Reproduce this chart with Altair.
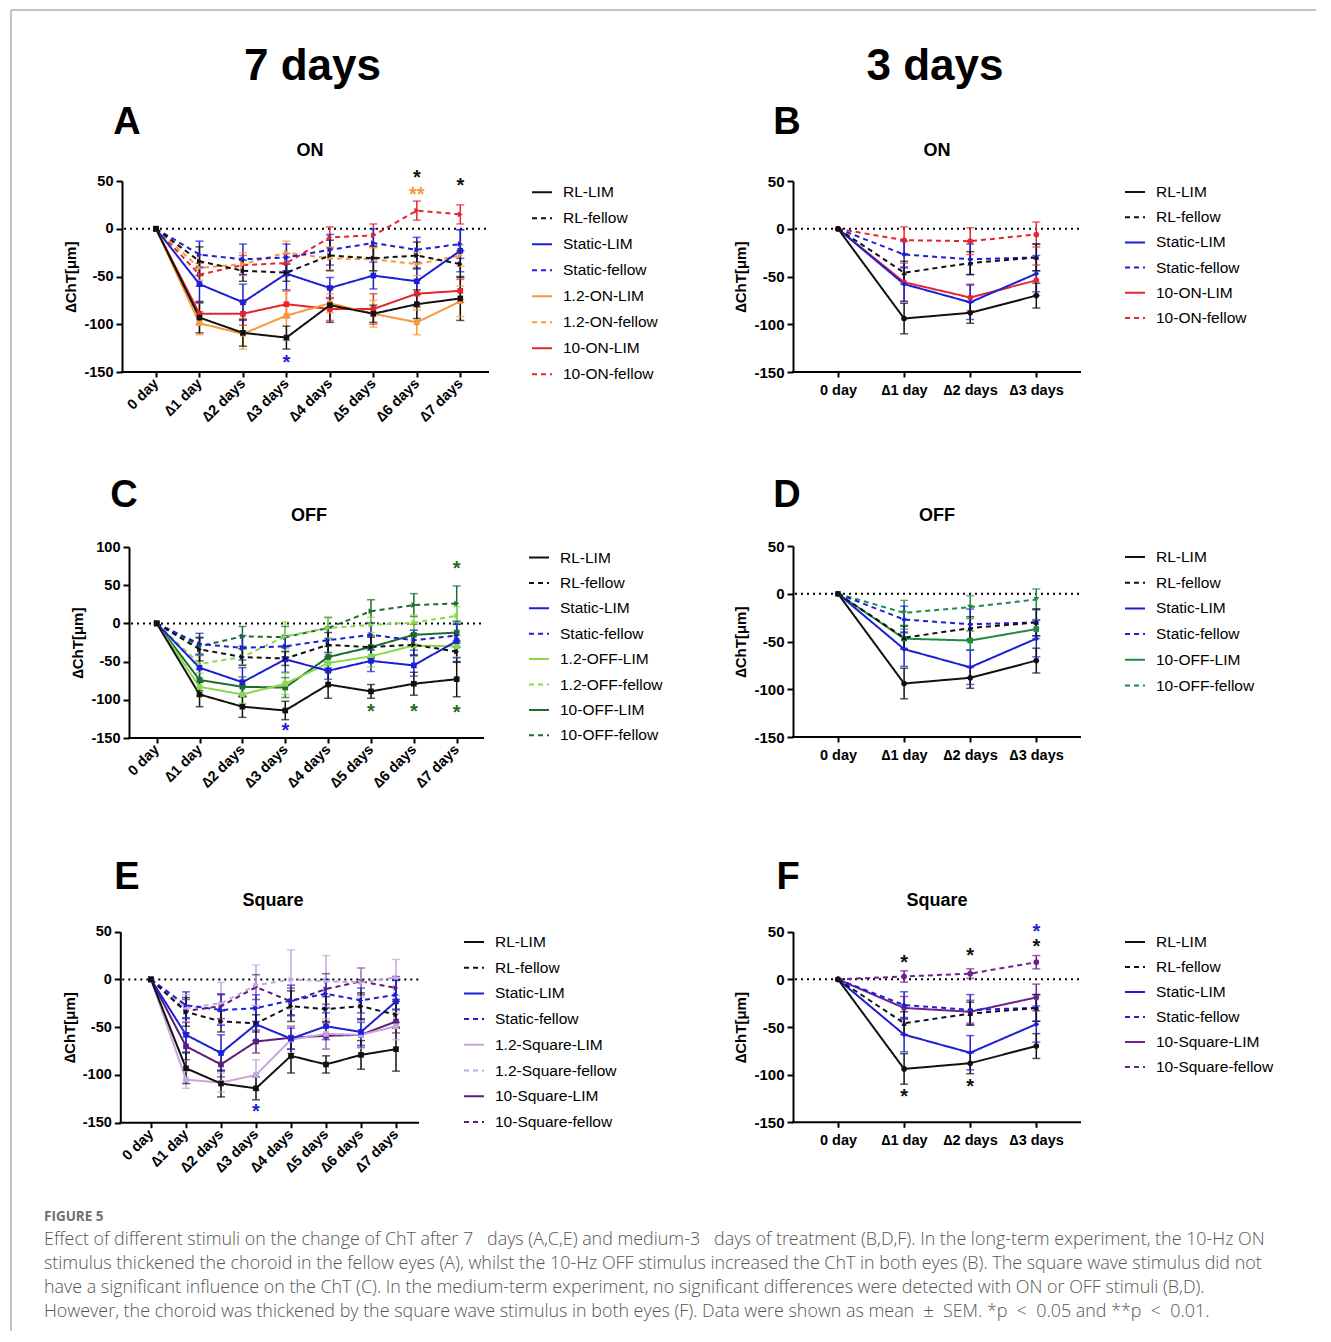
import altair as alt
import pandas as pd

FONT = "Liberation Sans"
CAP_FONT = "Open Sans"

# ---------------- categories ----------------
CATS7 = ["0 day", "∆1 day", "∆2 days", "∆3 days", "∆4 days", "∆5 days", "∆6 days", "∆7 days"]
CATS3 = ["0 day", "∆1 day", "∆2 days", "∆3 days"]

# ---------------- 7-day experiment (mean, SEM) ----------------
RL_LIM_7 = [0, -93, -109, -114, -80, -89, -79, -73]
RL_LIM_7_SEM = [0, 16, 14, 12, 18, 9, 15, 23]
RL_FEL_7 = [0, -34, -44, -46, -28, -31, -28, -37]
RL_FEL_7_SEM = [0, 15, 11, 9, 16, 13, 14, 14]
ST_LIM_7 = [0, -58, -77, -47, -62, -49, -55, -23]
ST_LIM_7_SEM = [0, 18, 19, 17, 11, 14, 14, 22]
ST_FEL_7 = [0, -27, -32, -30, -22, -15, -22, -16]
ST_FEL_7_SEM = [0, 14, 16, 14, 16, 15, 13, 15]

ON12_LIM = [0, -99, -110, -91, -78, -89, -98, -76]
ON12_LIM_SEM = [0, 12, 16, 26, 10, 14, 13, 16]
ON12_FEL = [0, -41, -37, -25, -31, -32, -37, -28]
ON12_FEL_SEM = [0, 13, 12, 12, 12, 12, 12, 11]
ON10_LIM = [0, -89, -89, -79, -84, -84, -68, -65]
ON10_LIM_SEM = [0, 11, 12, 14, 12, 16, 14, 12]
ON10_FEL = [0, -48, -38, -36, -9, -7, 19, 15]
ON10_FEL_SEM = [0, 12, 10, 10, 11, 12, 10, 10]

OFF12_LIM = [0, -83, -93, -79, -52, -43, -29, -30]
OFF12_LIM_SEM = [0, 12, 12, 14, 12, 14, 14, 14]
OFF12_FEL = [0, -53, -44, -17, -6, -2, 1, 10]
OFF12_FEL_SEM = [0, 12, 10, 19, 13, 10, 10, 12]
OFF10_LIM = [0, -74, -83, -84, -44, -31, -15, -12]
OFF10_LIM_SEM = [0, 14, 13, 13, 14, 15, 14, 14]
OFF10_FEL = [0, -30, -17, -18, -6, 16, 24, 26]
OFF10_FEL_SEM = [0, 12, 13, 14, 14, 15, 15, 23]

SQ12_LIM = [0, -105, -108, -100, -63, -57, -58, -49]
SQ12_LIM_SEM = [0, 9, 10, 16, 14, 16, 14, 14]
SQ12_FEL = [0, -30, -25, -6, 0, -2, -3, 2]
SQ12_FEL_SEM = [0, 14, 22, 21, 31, 27, 15, 19]
SQ10_LIM = [0, -70, -89, -65, -61, -59, -58, -44]
SQ10_LIM_SEM = [0, 14, 13, 12, 12, 14, 13, 12]
SQ10_FEL = [0, -33, -28, -8, -23, -10, -2, -9]
SQ10_FEL_SEM = [0, 12, 13, 13, 14, 16, 14, 12]

# ---------------- 3-day experiment (mean, SEM) ----------------
RL_LIM_3 = [0, -94, -88, -70]
RL_LIM_3_SEM = [0, 16, 11, 13]
RL_FEL_3 = [0, -46, -36, -30]
RL_FEL_3_SEM = [0, 12, 12, 14]
ST_LIM_3 = [0, -58, -77, -47]
ST_LIM_3_SEM = [0, 18, 18, 19]
ST_FEL_3 = [0, -27, -32, -30]
ST_FEL_3_SEM = [0, 14, 16, 14]
ON10_LIM_3 = [0, -56, -72, -54]
ON10_LIM_3_SEM = [0, 20, 14, 16]
ON10_FEL_3 = [0, -12, -13, -6]
ON10_FEL_3_SEM = [0, 14, 14, 13]
OFF10_LIM_3 = [0, -47, -49, -37]
OFF10_LIM_3_SEM = [0, 10, 10, 10]
OFF10_FEL_3 = [0, -20, -14, -6]
OFF10_FEL_3_SEM = [0, 13, 12, 11]
SQ10_LIM_3 = [0, -30, -34, -19]
SQ10_LIM_3_SEM = [0, 12, 12, 14]
SQ10_FEL_3 = [0, 3, 6, 18]
SQ10_FEL_3_SEM = [0, 6, 5, 7]

# ---------------- significance stars ----------------
STARS_A = (["∆6 days", "∆6 days", "∆7 days", "∆3 days"], [55, 37, 46.5, -138], ["*", "**", "*", "*"], ["k", "o", "k", "b"])
STARS_B = ([], [], [], [])
STARS_C = (["∆7 days", "∆5 days", "∆6 days", "∆7 days", "∆3 days"], [73.5, -113, -113, -115, -138], ["*"] * 5, ["dg", "dg", "dg", "dg", "b"])
STARS_D = ([], [], [], [])
STARS_E = (["∆3 days"], [-137], ["*"], ["b"])
STARS_F = (["∆1 day", "∆2 days", "∆3 days", "∆3 days", "∆1 day", "∆2 days"], [19.6, 26.6, 36.4, 52, -121, -111], ["*"] * 6, ["k", "k", "k", "b", "k", "k"])

# ---------------- styles ----------------
COL = {"k": "#111111", "b": "#1c1fd6", "o": "#f59a3a", "r": "#e3262d", "lg": "#88d94a",
       "dg": "#1f6b2e", "g": "#1e8a44", "lp": "#c6a6dc", "dp": "#5c1c78", "p": "#6b2190"}
SOLID = [1, 0]
DASH = [5, 4]

PANELS = [
    dict(key="A", cats=CATS7,
         names=["RL-LIM", "RL-fellow", "Static-LIM", "Static-fellow", "1.2-ON-LIM", "1.2-ON-fellow", "10-ON-LIM", "10-ON-fellow"],
         means=[RL_LIM_7, RL_FEL_7, ST_LIM_7, ST_FEL_7, ON12_LIM, ON12_FEL, ON10_LIM, ON10_FEL],
         sems=[RL_LIM_7_SEM, RL_FEL_7_SEM, ST_LIM_7_SEM, ST_FEL_7_SEM, ON12_LIM_SEM, ON12_FEL_SEM, ON10_LIM_SEM, ON10_FEL_SEM],
         cols=["k", "k", "b", "b", "o", "o", "r", "r"],
         marks=["square", "triangle-right"] * 4, stars=STARS_A,
         ydom=[-150, 50], yticks=[-150, -100, -50, 0, 50],
         W=360, H=191, yr=[191, 0], xr=[27, 331.3], off=7, rotate=True, fs=14,
         leg=(402, 10.2, 26), letter=("A", -2, -47), sub=("ON", 181, -25), header=("7 days", 183.5, -101)),
    dict(key="B", cats=CATS3,
         names=["RL-LIM", "RL-fellow", "Static-LIM", "Static-fellow", "10-ON-LIM", "10-ON-fellow"],
         means=[RL_LIM_3, RL_FEL_3, ST_LIM_3, ST_FEL_3, ON10_LIM_3, ON10_FEL_3],
         sems=[RL_LIM_3_SEM, RL_FEL_3_SEM, ST_LIM_3_SEM, ST_FEL_3_SEM, ON10_LIM_3_SEM, ON10_FEL_3_SEM],
         cols=["k", "k", "b", "b", "r", "r"],
         marks=["circle", "triangle-up", "diamond", "diamond", "circle", "circle"], stars=STARS_B,
         ydom=[-150, 50], yticks=[-150, -100, -50, 0, 50],
         W=288, H=191, yr=[191, 0], xr=[45, 243.3], off=0, rotate=False, fs=14.5,
         leg=(331, 10, 25.2), letter=("B", -6, -47), sub=("ON", 144, -25), header=("3 days", 142, -101)),
    dict(key="C", cats=CATS7,
         names=["RL-LIM", "RL-fellow", "Static-LIM", "Static-fellow", "1.2-OFF-LIM", "1.2-OFF-fellow", "10-OFF-LIM", "10-OFF-fellow"],
         means=[RL_LIM_7, RL_FEL_7, ST_LIM_7, ST_FEL_7, OFF12_LIM, OFF12_FEL, OFF10_LIM, OFF10_FEL],
         sems=[RL_LIM_7_SEM, RL_FEL_7_SEM, ST_LIM_7_SEM, ST_FEL_7_SEM, OFF12_LIM_SEM, OFF12_FEL_SEM, OFF10_LIM_SEM, OFF10_FEL_SEM],
         cols=["k", "k", "b", "b", "lg", "lg", "dg", "dg"],
         marks=["square", "triangle-right"] * 4, stars=STARS_C,
         ydom=[-150, 100], yticks=[-150, -100, -50, 0, 50, 100],
         W=355, H=192, yr=[192, 1], xr=[27.7, 327.7], off=0, rotate=True, fs=14,
         leg=(399, 10.5, 25.4), letter=("C", -5, -39), sub=("OFF", 180, -25), header=None),
    dict(key="D", cats=CATS3,
         names=["RL-LIM", "RL-fellow", "Static-LIM", "Static-fellow", "10-OFF-LIM", "10-OFF-fellow"],
         means=[RL_LIM_3, RL_FEL_3, ST_LIM_3, ST_FEL_3, OFF10_LIM_3, OFF10_FEL_3],
         sems=[RL_LIM_3_SEM, RL_FEL_3_SEM, ST_LIM_3_SEM, ST_FEL_3_SEM, OFF10_LIM_3_SEM, OFF10_FEL_3_SEM],
         cols=["k", "k", "b", "b", "g", "g"],
         marks=["circle", "triangle-up", "diamond", "diamond", "square", "triangle-down"], stars=STARS_D,
         ydom=[-150, 50], yticks=[-150, -100, -50, 0, 50],
         W=288, H=191, yr=[191, 0], xr=[45, 243.3], off=0, rotate=False, fs=14.5,
         leg=(331, 10, 25.7), letter=("D", -6, -39), sub=("OFF", 144, -25), header=None),
    dict(key="E", cats=CATS7,
         names=["RL-LIM", "RL-fellow", "Static-LIM", "Static-fellow", "1.2-Square-LIM", "1.2-Square-fellow", "10-Square-LIM", "10-Square-fellow"],
         means=[RL_LIM_7, RL_FEL_7, ST_LIM_7, ST_FEL_7, SQ12_LIM, SQ12_FEL, SQ10_LIM, SQ10_FEL],
         sems=[RL_LIM_7_SEM, RL_FEL_7_SEM, ST_LIM_7_SEM, ST_FEL_7_SEM, SQ12_LIM_SEM, SQ12_FEL_SEM, SQ10_LIM_SEM, SQ10_FEL_SEM],
         cols=["k", "k", "b", "b", "lp", "lp", "dp", "dp"],
         marks=["square", "triangle-right"] * 4, stars=STARS_E,
         ydom=[-150, 50], yticks=[-150, -100, -50, 0, 50],
         W=290, H=210.7, yr=[210.7, 19.7], xr=[22, 267], off=8.7, rotate=True, fs=14,
         leg=(334, 29, 25.7), letter=("E", -2, -23), sub=("Square", 144, -6), header=None),
    dict(key="F", cats=CATS3,
         names=["RL-LIM", "RL-fellow", "Static-LIM", "Static-fellow", "10-Square-LIM", "10-Square-fellow"],
         means=[RL_LIM_3, RL_FEL_3, ST_LIM_3, ST_FEL_3, SQ10_LIM_3, SQ10_FEL_3],
         sems=[RL_LIM_3_SEM, RL_FEL_3_SEM, ST_LIM_3_SEM, ST_FEL_3_SEM, SQ10_LIM_3_SEM, SQ10_FEL_3_SEM],
         cols=["k", "k", "b", "b", "p", "p"],
         marks=["circle", "triangle-up", "diamond", "diamond", "circle", "circle"], stars=STARS_F,
         ydom=[-150, 50], yticks=[-150, -100, -50, 0, 50],
         W=288, H=210.3, yr=[210.3, 19.7], xr=[45, 243.3], off=0, rotate=False, fs=14.5,
         leg=(331, 29, 25), letter=("F", -5, -23), sub=("Square", 144, -6), header=None),
]

NB = "\u00a0"
CAPTION_HEAD = "FIGURE 5"
CAPTION = [
    "Effect of different stimuli on the change of ChT after 7" + NB * 3 + "days (A,C,E) and medium-3" + NB * 3 + "days of treatment (B,D,F). In the long-term experiment, the 10-Hz ON",
    "stimulus thickened the choroid in the fellow eyes (A), whilst the 10-Hz OFF stimulus increased the ChT in both eyes (B). The square wave stimulus did not",
    "have a significant influence on the ChT (C). In the medium-term experiment, no significant differences were detected with ON or OFF stimuli (B,D).",
    "However, the choroid was thickened by the square wave stimulus in both eyes (F). Data were shown as mean" + NB * 2 + "±" + NB * 2 + "SEM. *p" + NB * 2 + "<" + NB * 2 + "0.05 and **p" + NB * 2 + "<" + NB * 2 + "0.01.",
]


def deco_text(x, y, text, size, weight="bold", color="black", font=FONT, align="center"):
    return alt.Chart(pd.DataFrame({"t": [text]})).mark_text(
        fontSize=size, fontWeight=weight, color=color, font=font, align=align, baseline="alphabetic"
    ).encode(x=alt.value(x), y=alt.value(y), text="t:N")


def make_panel(p):
    cats = p["cats"]
    rows = []
    for i in reversed(range(len(p["names"]))):
        for c, m, s in zip(cats, p["means"][i], p["sems"][i]):
            rows.append({"series": p["names"][i], "cat": c, "mean": m, "lo": m - s, "hi": m + s,
                         "sem": s, "col": COL[p["cols"][i]], "mk": p["marks"][i]})
    df = pd.DataFrame(rows)
    err = df[df["sem"] > 0]
    W, H, off = p["W"], p["H"], p["off"]
    xs = alt.Scale(type="point", domain=cats, range=p["xr"], padding=0)
    ys = alt.Scale(domain=p["ydom"], range=p["yr"], nice=False, zero=False)

    fs = p["fs"]
    xaxis = alt.Axis(title=None, domain=False, ticks=True, tickSize=5, tickWidth=2, tickColor="black",
                     labelAngle=-45 if p["rotate"] else 0,
                     labelAlign="right" if p["rotate"] else "center",
                     labelBaseline="middle" if p["rotate"] else "top",
                     labelFont=FONT, labelFontSize=fs + (0.5 if p["rotate"] else 0), labelFontWeight="bold",
                     labelColor="black", labelPadding=4 if p["rotate"] else 6, labelOverlap=False, grid=False)
    yaxis = alt.Axis(title="∆ChT[μm]", values=p["yticks"], offset=off, domain=True, domainColor="black",
                     domainWidth=2, ticks=True, tickColor="black", tickWidth=2, tickSize=6,
                     labelExpr="'' + datum.value",
                     labelFont=FONT, labelFontSize=fs + 0.5, labelFontWeight="bold", labelColor="black",
                     labelPadding=3, labelFlush=False, titleFont=FONT, titleFontSize=15,
                     titleFontWeight="bold", titleColor="black", titlePadding=5, grid=False)

    def X():
        return alt.X("cat:N", scale=xs, sort=cats, axis=xaxis)

    def Y(field):
        return alt.Y(field, scale=ys, axis=yaxis, title="∆ChT[μm]")

    lx, ly, step = p["leg"]
    leg = alt.Legend(orient="none", legendX=lx, legendY=ly - 10, title=None, symbolType="stroke",
                     symbolSize=400, symbolStrokeWidth=2, labelFont=FONT, labelFontSize=15.5,
                     labelColor="black", rowPadding=step - 20, labelOffset=10, padding=0)

    zero = alt.Chart(pd.DataFrame({"z": [0]})).mark_rule(
        color="black", strokeWidth=2, strokeDash=[2, 4]
    ).encode(y=Y("z:Q"), x=alt.value(-off + 2), x2=alt.value(W))
    base = alt.Chart(pd.DataFrame({"z": [p["ydom"][0]]})).mark_rule(
        color="black", strokeWidth=2
    ).encode(y=Y("z:Q"), x=alt.value(-off - 1), x2=alt.value(W))

    ebar = alt.Chart(err).mark_rule(strokeWidth=1.5).encode(
        x=X(), y=Y("lo:Q"), y2="hi:Q", stroke=alt.Stroke("col:N", scale=None))
    cap_lo = alt.Chart(err).mark_tick(thickness=1.5, size=8).encode(
        x=X(), y=Y("lo:Q"), fill=alt.Fill("col:N", scale=None))
    cap_hi = alt.Chart(err).mark_tick(thickness=1.5, size=8).encode(
        x=X(), y=Y("hi:Q"), fill=alt.Fill("col:N", scale=None))

    lines = alt.Chart(df).mark_line(strokeWidth=2).encode(
        x=X(), y=Y("mean:Q"),
        color=alt.Color("series:N", scale=alt.Scale(domain=p["names"], range=[COL[c] for c in p["cols"]]), legend=leg),
        strokeDash=alt.StrokeDash("series:N", scale=alt.Scale(domain=p["names"],
                                  range=[SOLID if n.endswith("LIM") else DASH for n in p["names"]]), legend=leg),
    )
    pts = alt.Chart(df).mark_point(filled=True, size=32, opacity=1, strokeWidth=0).encode(
        x=X(), y=Y("mean:Q"), fill=alt.Fill("col:N", scale=None), shape=alt.Shape("mk:N", scale=None))

    layers = [zero, base, ebar, cap_lo, cap_hi, lines, pts]

    scat, sval, stxt, scol = p["stars"]
    if scat:
        sdf = pd.DataFrame({"cat": scat, "v": sval, "t": stxt, "col": [COL[c] for c in scol]})
        layers.append(alt.Chart(sdf).mark_text(fontSize=20, fontWeight="bold", font=FONT, baseline="middle", dy=2).encode(
            x=X(), y=Y("v:Q"), text="t:N", fill=alt.Fill("col:N", scale=None)))

    t, x, y = p["letter"]
    layers.append(deco_text(x, y, t, 38))
    t, x, y = p["sub"]
    layers.append(deco_text(x, y, t, 18))
    if p["header"]:
        t, x, y = p["header"]
        layers.append(deco_text(x, y, t, 44))

    if p["key"] == "A":
        one = pd.DataFrame({"a": [0]})
        layers.append(alt.Chart(one).mark_rule(color="#b0b0b0", strokeWidth=1.5).encode(
            x=alt.value(-118), x2=alt.value(1187), y=alt.value(-171)))
        layers.append(alt.Chart(one).mark_rule(color="#b0b0b0", strokeWidth=1.5).encode(
            x=alt.value(-118), y=alt.value(-171), y2=alt.value(1150)))
    if p["key"] == "E":
        layers.append(deco_text(-85, 309, CAPTION_HEAD, 13.5, weight="bold", color="#707070", font=CAP_FONT, align="left"))
        for i, line in enumerate(CAPTION):
            layers.append(deco_text(-85, 333 + 24 * i, line, 17.9, weight=300, color="#555555", font=CAP_FONT, align="left"))

    return alt.layer(*layers).properties(width=W, height=H)


panels = [make_panel(p) for p in PANELS]

chart = alt.concat(
    *panels, columns=2, spacing=alt.RowColnumber(row=174, column=304), bounds="flush", align="each"
).resolve_scale(
    color="independent", strokeDash="independent"
).configure_view(
    strokeWidth=0
).properties(
    padding={"left": 2, "top": 1, "right": 2, "bottom": 2}, background="white"
)

chart.save("out.html", embed_options={"renderer": "svg", "actions": False})
